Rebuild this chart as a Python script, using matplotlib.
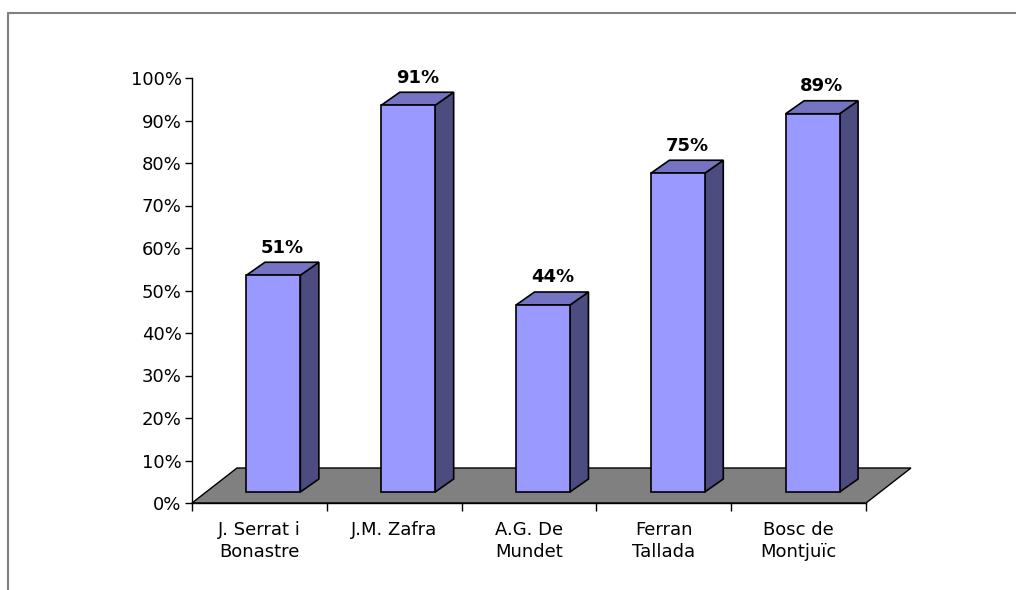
import matplotlib
matplotlib.use("Agg")
import matplotlib.pyplot as plt
from matplotlib.patches import Polygon
from matplotlib.lines import Line2D
from matplotlib.ticker import PercentFormatter

categories = ["J. Serrat i\nBonastre", "J.M. Zafra", "A.G. De\nMundet", "Ferran\nTallada", "Bosc de\nMontjuïc"]
values = [0.51, 0.91, 0.44, 0.75, 0.89]
value_labels = ["51%", "91%", "44%", "75%", "89%"]
y_ticks = [0.0, 0.1, 0.2, 0.3, 0.4, 0.5, 0.6, 0.7, 0.8, 0.9, 1.0]

W, H = 1016, 590
fig = plt.figure(figsize=(W / 100, H / 100), dpi=100)
fig.patch.set_facecolor("white")

# axes placement in pixels
ax_l, ax_r, ax_b, ax_t = 192, 866, 503, 78
ax = fig.add_axes([ax_l / W, (H - ax_b) / H, (ax_r - ax_l) / W, (ax_b - ax_t) / H])
ax.set_xlim(0, len(categories))
ax.set_ylim(0, 1)
ax.patch.set_alpha(0)

px_x = (ax_r - ax_l) / len(categories)   # pixels per category unit
px_y = (ax_b - ax_t) / 1.0               # pixels per value unit

def dxy(px, py):
    return px / px_x, py / px_y

# floor
fdx, fdy = dxy(45, 35)
n = len(categories)
floor = Polygon([(0, 0), (n, 0), (n + fdx, fdy), (fdx, fdy)], closed=True,
                facecolor="#808080", edgecolor="black", lw=1.0, clip_on=False, zorder=1)
ax.add_patch(floor)

# bars
bw = 0.40
axf, ayf = dxy(14, 11)
axb, ayb = dxy(32.5, 24)
front_c, top_c, side_c = "#9999FF", "#7474C2", "#4C4C80"
for i, v in enumerate(values):
    x0 = i + 0.5 - bw / 2
    x1 = i + 0.5 + bw / 2
    front = [(x0 + axf, ayf), (x1 + axf, ayf), (x1 + axf, v + ayf), (x0 + axf, v + ayf)]
    top = [(x0 + axf, v + ayf), (x1 + axf, v + ayf), (x1 + axb, v + ayb), (x0 + axb, v + ayb)]
    side = [(x1 + axf, ayf), (x1 + axb, ayb), (x1 + axb, v + ayb), (x1 + axf, v + ayf)]
    for pts, c in ((side, side_c), (top, top_c), (front, front_c)):
        ax.add_patch(Polygon(pts, closed=True, facecolor=c, edgecolor="black",
                             lw=1.2, joinstyle="miter", clip_on=False, zorder=3))
    ax.annotate(value_labels[i], xy=(i + 0.5 + (axf + axb) / 2, v + ayb),
                xytext=(0, 7), textcoords="offset points", ha="center", va="baseline",
                fontsize=13, fontweight="bold", color="black", annotation_clip=False, zorder=5)

# axes styling
for s in ("top", "right"):
    ax.spines[s].set_visible(False)
ax.spines["left"].set_color("black")
ax.spines["bottom"].set_color("black")
ax.spines["left"].set_linewidth(1.0)
ax.spines["bottom"].set_linewidth(1.0)
ax.spines["bottom"].set_zorder(2)

ax.set_yticks(y_ticks)
ax.yaxis.set_major_formatter(PercentFormatter(1.0, decimals=0))
ax.tick_params(axis="y", direction="out", length=5, width=1, pad=2.4, labelsize=13, colors="black")

ax.set_xticks(range(n + 1))
ax.set_xticklabels([""] * (n + 1))
ax.set_xticks([i + 0.5 for i in range(n)], minor=True)
ax.set_xticklabels(categories, minor=True, fontsize=13, linespacing=1.3)
ax.tick_params(axis="x", which="major", direction="out", length=6, width=1, colors="black")
ax.tick_params(axis="x", which="minor", length=0, pad=13)

# outer frame (partially visible)
lw_frame = 1.5
fig.add_artist(Line2D([7.5 / W, 7.5 / W], [0, (H - 13) / H], transform=fig.transFigure,
                      color="#808080", lw=lw_frame, solid_capstyle="butt"))
fig.add_artist(Line2D([7.5 / W - 0.0007, 1], [(H - 13) / H, (H - 13) / H], transform=fig.transFigure,
                      color="#808080", lw=lw_frame, solid_capstyle="butt"))

fig.savefig("out.png", dpi=100)
